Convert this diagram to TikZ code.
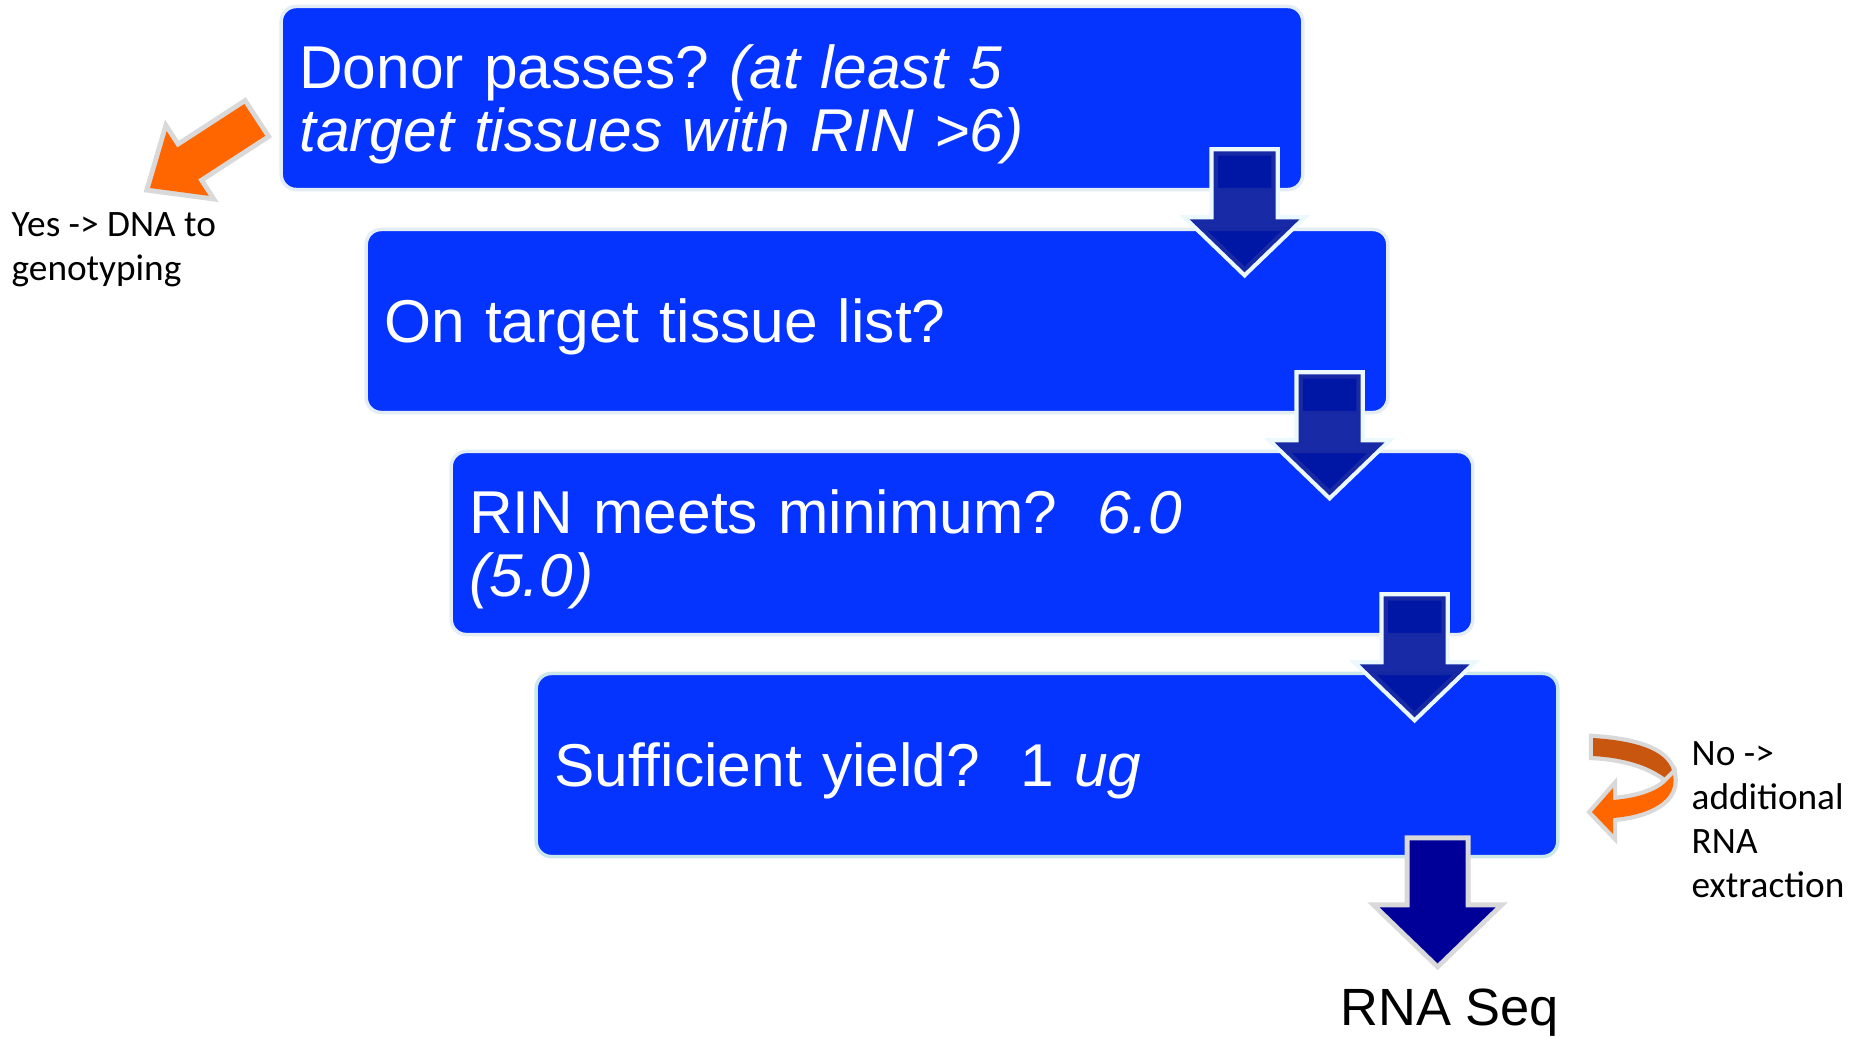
\documentclass[tikz,border=0pt]{standalone}
\usepackage{fontspec}
\setmainfont{Liberation Sans}
\newfontfamily\calibri{Carlito}
\usetikzlibrary{calc}
\definecolor{stageblue}{HTML}{0533FF}
\definecolor{stageedge}{HTML}{E4ECF4}
\definecolor{lastedge}{HTML}{CBE7EA}
\definecolor{flownavy}{HTML}{00139C}
\definecolor{seqnavy}{HTML}{000099}
\definecolor{yesorange}{HTML}{FF6600}
\definecolor{backorange}{HTML}{C8560F}
\definecolor{shadegray}{HTML}{D9D9D9}

\begin{document}
\begin{tikzpicture}[x=0.01cm, y=-0.01cm]
                    \tikzstyle{every node}=[font=\fontsize{17.2pt}{18pt}\selectfont\frenchspacing]
                    \tikzstyle{stage} = [rounded corners=0.15cm, fill=stageblue, draw=stageedge, line width=1pt, text=white, minimum width=10.21cm, minimum height=1.83cm, text width=9.85cm, inner xsep=0.18cm, align=left, text depth=0pt]
                    \tikzstyle{twolines} = [text depth=18pt]
                    \tikzstyle{sidetext} = [font=\calibri\fontsize{10.6pt}{12.5pt}\selectfont, align=left, inner sep=0pt, anchor=base west]
                    \tikzstyle{flowarrow} = [fill=flownavy, fill opacity=0.9, preaction={draw=white!92!cyan, line width=2.4pt}]
                    \tikzstyle{seqarrow} = [fill=seqnavy, preaction={draw=shadegray, line width=2.8pt}]
                    \tikzstyle{yesarrow} = [fill=yesorange, preaction={draw=shadegray, line width=2.8pt}]
                    \tikzstyle{backribbon} = [fill=backorange, preaction={draw=shadegray, line width=2.4pt}]
                    \tikzstyle{frontribbon} = [fill=yesorange, preaction={draw=shadegray, line width=2.4pt}]

                    \useasboundingbox (0,0) rectangle (1852,1036);

                    \node[stage, twolines](donor) at (792,98) {Donor passes? \textit{(at least 5}\\\textit{target tissues with RIN >6)}};
                    \node[stage](list) at (877,321) {On target tissue list?};
                    \node[stage, twolines](rin) at (962,543) {RIN meets minimum?\ \ \textit{6.0}\\\textit{(5.0)}};
                    \node[stage, draw=lastedge](yield) at (1047,765) {Sufficient yield?\ \ 1 \textit{ug}};

                    % base of a side text is its last line
                    \node[sidetext](yes) at (11,280) {Yes -> DNA to\\genotyping};
                    \node[sidetext](retry) at (1691,897) {No ->\\additional\\RNA\\extraction};
                    \node[font=\fontsize{14.9pt}{16pt}\selectfont, anchor=base west, inner sep=0pt](seq) at (1340,1025) {RNA Seq};

                    % block arrows between the stages
                    \foreach \a in {donor, list, rin}
                        \fill[flowarrow] ($(\a.south east)+(-60,-40)$) ++(-31,0) -- ++(62,0) -- ++(0,68) -- ++(24,0) -- ++(-55,53) -- ++(-55,-53) -- ++(24,0) -- cycle;
                    \fill[seqarrow] ($(yield.south east)+(-122,-18)$) ++(-28,0) -- ++(56,0) -- ++(0,67) -- ++(30,0) -- ++(-58,56) -- ++(-58,-56) -- ++(30,0) -- cycle;

                    % yes / no arrows
                    \fill[yesarrow] (150,188) -- (208.7,195.8) -- (198.1,179.4) -- (265.2,135.8) -- (244.4,104.0) -- (177.3,147.6) -- (166.7,131.2) -- cycle;
                    \fill[backribbon] (1593,738) .. controls (1640,741) and (1670,752) .. (1673,775) -- (1668,780) .. controls (1652,767) and (1628,758) .. (1593,756) -- cycle;
                    \fill[frontribbon] (1673,775) .. controls (1678,800) and (1650,815) .. (1613,818) -- (1613,834) -- (1592,812) -- (1613,788) -- (1613,800) .. controls (1640,798) and (1660,790) .. (1668,780) -- cycle;
\end{tikzpicture}
\end{document}
